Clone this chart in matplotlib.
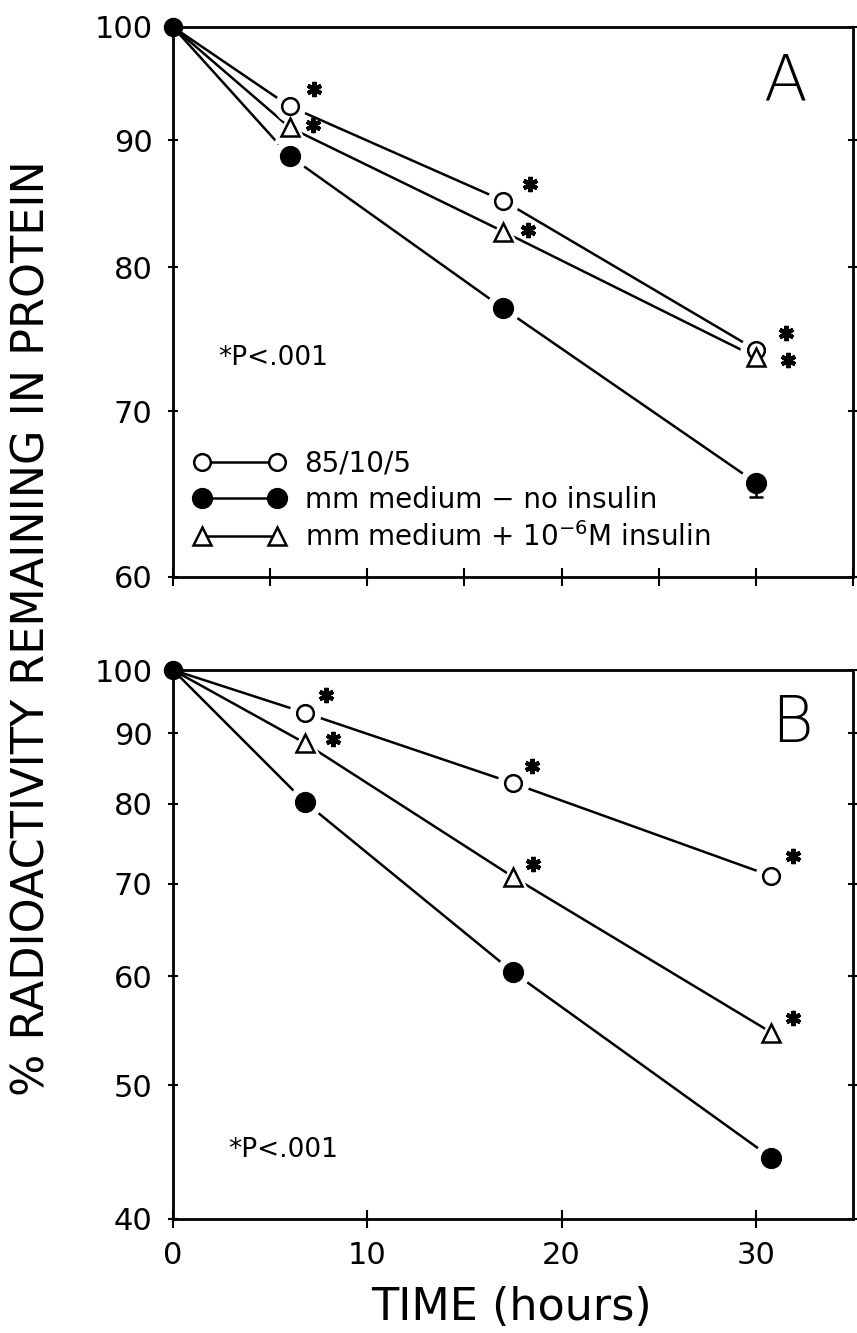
import matplotlib
matplotlib.use('Agg')
from matplotlib import pyplot as plt
from matplotlib.lines import Line2D
from matplotlib.transforms import offset_copy
import numpy as np

# values (% radioactivity remaining in protein)
series_labels = ['85/10/5', 'mm medium \u2212 no insulin', r'mm medium + 10$^{-6}$M insulin']

time_a = [0, 6.0, 17.0, 30.0]
a_8510 = [100, 92.9, 85.1, 74.1]
a_noins = [100, 88.7, 77.0, 65.5]
a_ins = [100, 91.1, 82.7, 73.6]
a_noins_err_low = [0, 0, 0, 0.9]

time_b = [0, 6.8, 17.5, 30.8]
b_8510 = [100, 93.1, 82.8, 70.9]
b_noins = [100, 80.2, 60.4, 44.3]
b_ins = [100, 88.5, 70.8, 54.6]

yticks_a = [60, 70, 80, 90, 100]
yticks_b = [40, 50, 60, 70, 80, 90, 100]
xticks_a = [0, 5, 10, 15, 20, 25, 30, 35]
xticks_b = [0, 10, 20, 30]

# --- styles ---
styles = [dict(marker='o', ms=12, mfc='white'),
          dict(marker='o', ms=13.5, mfc='black'),
          dict(marker='^', ms=12.5, mfc='white')]

plt.rcParams['font.family'] = 'DejaVu Sans'

W, H = 857, 1333
fig = plt.figure(figsize=(W / 100, H / 100), dpi=100)


def px_axes(l, t, r, b):
    return fig.add_axes([l / W, 1 - b / H, (r - l) / W, (b - t) / H])


axA = px_axes(173, 27, 853, 577)
axB = px_axes(173, 670, 853, 1219)


def setup(ax, ylo, yt, xt, xlabels):
    ax.set_yscale('log')
    ax.set_xlim(0, 35)
    ax.set_ylim(ylo, 100)
    ax.set_yticks(yt)
    ax.set_yticklabels([str(v) for v in yt])
    ax.minorticks_off()
    ax.set_xticks(xt)
    if xlabels:
        ax.set_xticklabels([str(v) for v in xt])
    else:
        ax.set_xticklabels([])
    ax.tick_params(axis='y', which='major', direction='inout', length=7.5, width=1.5,
                   left=True, right=True, labelsize=22, pad=11)
    ax.tick_params(axis='x', which='major', direction='inout', length=13, width=1.5,
                   top=False, labelsize=22, pad=9)
    for s in ax.spines.values():
        s.set_linewidth(2)


def draw(ax, t, series):
    t = np.array(t)
    for vals in series:
        ax.plot(t, vals, '-', color='k', lw=1.8, zorder=2)
    for vals, st in zip(series, styles):
        ax.plot(t[1:], vals[1:], ls='none', marker=st['marker'], ms=st['ms'] + 10,
                mfc='white', mec='white', zorder=3)
    for vals, st in zip(series, styles):
        ax.plot(t[1:], vals[1:], ls='none', marker=st['marker'], ms=st['ms'],
                mfc=st['mfc'], mec='k', mew=1.8, zorder=4)
    ax.plot([t[0]], [series[1][0]], 'o', color='k', ms=13, clip_on=False, zorder=5)


def stars(ax, t, vals, offsets):
    for x, y, (dx, dy) in zip(t[1:], vals[1:], offsets):
        tr = offset_copy(ax.transData, fig=fig, x=dx, y=-dy, units='dots')
        ax.plot([x], [y], ls='none', marker=(6, 2, 0), ms=11, mew=3, color='k',
                transform=tr, clip_on=False, zorder=6)


# ---- panel A ----
setup(axA, 60, yticks_a, xticks_a, False)
draw(axA, time_a, [a_8510, a_noins, a_ins])
axA.errorbar(time_a, a_noins, yerr=[a_noins_err_low, [0] * 4], fmt='none', ecolor='k',
             elinewidth=1.8, capsize=5, capthick=1.8, zorder=3.5)
stars(axA, time_a, a_8510, [(24, -17), (27, -17), (30, -17)])
stars(axA, time_a, a_ins, [(23, -2), (25, -2), (32, 3)])
axA.text(0.90, 0.867, 'A', transform=axA.transAxes, fontsize=46, ha='center',
         va='baseline', fontweight='light')
axA.text(0.066, 0.385, '*P<.001', transform=axA.transAxes, fontsize=19, ha='left',
         va='baseline')

handles = [Line2D([], [], color='k', lw=1.8, marker=st['marker'], ms=st['ms'],
                  mfc=st['mfc'], mec='k', mew=1.8) for st in styles]
axA.legend(handles, series_labels, loc='upper left', bbox_to_anchor=(0.03, 0.232),
           frameon=False, numpoints=2, fontsize=20, handlelength=3.3,
           handletextpad=0.7, labelspacing=0.3, borderpad=0, borderaxespad=0)

# ---- panel B ----
setup(axB, 40, yticks_b, xticks_b, True)
draw(axB, time_b, [b_8510, b_noins, b_ins])
stars(axB, time_b, b_8510, [(21, -18), (19, -17), (22, -20)])
stars(axB, time_b, b_ins, [(28, -4), (20, -13), (22, -15)])
axB.text(0.91, 0.869, 'B', transform=axB.transAxes, fontsize=46, ha='center',
         va='baseline', fontweight='light')
axB.text(0.081, 0.113, '*P<.001', transform=axB.transAxes, fontsize=19, ha='left',
         va='baseline')

fig.text(32 / W, 1 - 628 / H, '% RADIOACTIVITY REMAINING IN PROTEIN', rotation=90,
         ha='center', va='center', fontsize=32)
fig.text(511 / W, 1 - 1308 / H, 'TIME (hours)', ha='center', va='center', fontsize=32)

fig.savefig('out.png', dpi=100)
